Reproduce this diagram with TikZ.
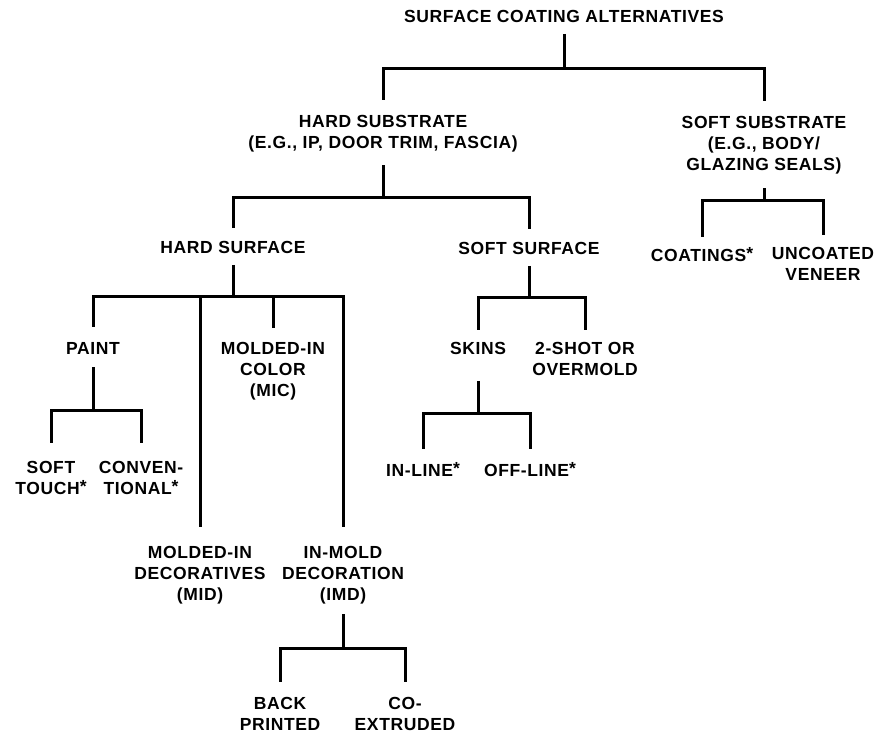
\documentclass[tikz,border=0pt]{standalone}
\usepackage{fontspec}
\setmainfont[LetterSpace=3.5]{Liberation Sans}
\usepackage{tikz}

\newcommand{\footstar}{\raisebox{2pt}{*}}

\begin{document}
\begin{tikzpicture}[
      x=1pt, y=-1pt,
      entry/.style={
        inner sep=0pt,
        anchor=north,
        align=center,
        font=\bfseries\fontsize{17.5}{21}\selectfont
      },
      link/.style={
        line width=3pt
      },
      stem/.style={
        link,
        shorten <=#1
      },
      stem/.default=11pt,
      drop/.style={
        link,
        shorten >=#1
      },
      drop/.default=15pt
    ]

    \useasboundingbox (0,0) rectangle (875,736);

    % top level
    \node[entry] (sca) at (564,10) {SURFACE COATING ALTERNATIVES};
    \node[entry] (hsub) at (383,115) {HARD SUBSTRATE\\(E.G., IP, DOOR TRIM, FASCIA)};
    \node[entry] (ssub) at (764,116) {SOFT SUBSTRATE\\(E.G., BODY/\\GLAZING SEALS)};

    % second level
    \node[entry] (hsurf) at (233,241) {HARD SURFACE};
    \node[entry] (ssurf) at (529,242) {SOFT SURFACE};
    \node[entry] (coat) at (702,247) {COATINGS\footstar};
    \node[entry] (unco) at (823,247) {UNCOATED\\VENEER};

    % third level
    \node[entry] (paint) at (93,342) {PAINT};
    \node[entry] (mic) at (273,342) {MOLDED-IN\\COLOR\\(MIC)};
    \node[entry] (skins) at (478,342) {SKINS};
    \node[entry] (shot) at (585,342) {2-SHOT OR\\OVERMOLD};
    \node[entry] (mid) at (200,546) {MOLDED-IN\\DECORATIVES\\(MID)};
    \node[entry] (imd) at (343,546) {IN-MOLD\\DECORATION\\(IMD)};

    % leaves
    \node[entry] (soft) at (51,461) {SOFT\\TOUCH\footstar};
    \node[entry] (conv) at (141,461) {CONVEN-\\TIONAL\footstar};
    \node[entry] (inl) at (423,462) {IN-LINE\footstar};
    \node[entry] (offl) at (530,462) {OFF-LINE\footstar};
    \node[entry] (back) at (280,697) {BACK\\PRINTED};
    \node[entry] (coex) at (405,697) {CO-\\EXTRUDED};

    % junctions
    \coordinate (jsca) at (sca.south |- 0,68);
    \coordinate (jhsub) at (hsub.south |- 0,197);
    \coordinate (jssub) at (ssub.south |- 0,200);
    \coordinate (jhsurf) at (hsurf.south |- 0,296);
    \coordinate (jssurf) at (ssurf.south |- 0,297);
    \coordinate (jpaint) at (paint.south |- 0,410);
    \coordinate (jskins) at (skins.south |- 0,413);
    \coordinate (jimd) at (imd.south |- 0,648);

    \draw[stem] (sca.south) -- (jsca);
    \draw[drop] (jsca) -| (hsub.north);
    \draw[drop] (jsca) -| (ssub.north);

    \draw[stem=13pt] (hsub.south) -- (jhsub);
    \draw[drop=13pt] (jhsub) -| (hsurf.north);
    \draw[drop=13pt] (jhsub) -| (ssurf.north);

    \draw[stem=14pt] (ssub.south) -- (jssub);
    \draw[drop=10pt] (jssub) -| (coat.north);
    \draw[drop=12pt] (jssub) -| (unco.north);

    \draw[stem] (hsurf.south) -- (jhsurf);
    \draw[drop] (jhsurf) -| (paint.north);
    \draw[drop=19pt] (jhsurf) -| (mid.north);
    \draw[drop=14pt] (jhsurf) -| (mic.north);
    \draw[drop=19pt] (jhsurf) -| (imd.north);

    \draw[stem] (ssurf.south) -- (jssurf);
    \draw[drop=12pt] (jssurf) -| (skins.north);
    \draw[drop=12pt] (jssurf) -| (shot.north);

    \draw[stem=13pt] (paint.south) -- (jpaint);
    \draw[drop=18pt] (jpaint) -| (soft.north);
    \draw[drop=18pt] (jpaint) -| (conv.north);

    \draw[stem=26pt] (skins.south) -- (jskins);
    \draw[drop=13pt] (jskins) -| (inl.north);
    \draw[drop=13pt] (jskins) -| (offl.north);

    \draw[stem=10pt] (imd.south) -- (jimd);
    \draw[drop] (jimd) -| (back.north);
    \draw[drop] (jimd) -| (coex.north);

    \end{tikzpicture}
\end{document}
